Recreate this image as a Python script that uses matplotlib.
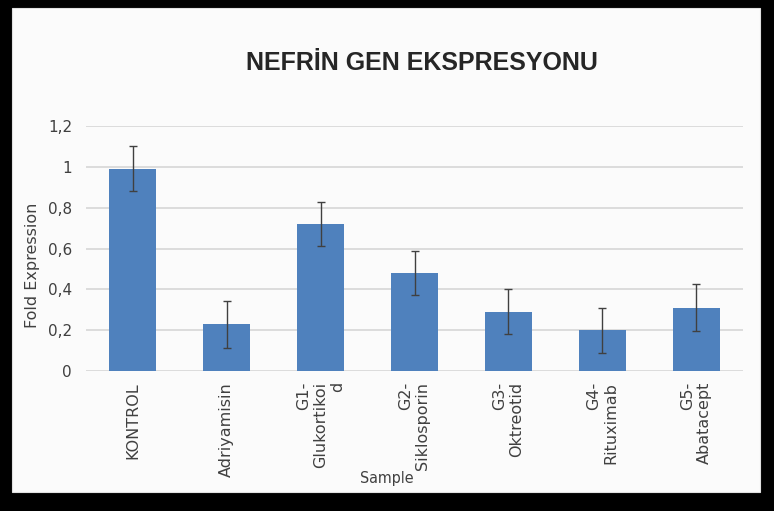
import matplotlib.pyplot as plt
from matplotlib.patches import Rectangle
from matplotlib.ticker import FuncFormatter

# data
samples = ["KONTROL", "Adriyamisin", "G1-\nGlukortikoi\nd", "G2-\nSiklosporin",
           "G3-\nOktreotid", "G4-\nRituximab", "G5-\nAbatacept"]
fold_expr = [0.99, 0.23, 0.72, 0.48, 0.29, 0.20, 0.31]
fold_err = [0.11, 0.115, 0.11, 0.11, 0.11, 0.11, 0.115]
yticks = [0, 0.2, 0.4, 0.6, 0.8, 1.0, 1.2]

W, H = 774, 511
fig = plt.figure(figsize=(W / 100, H / 100), dpi=100)
fig.patch.set_facecolor("black")

# white chart panel
panel = Rectangle((12 / W, 1 - 492 / H), (760 - 12) / W, (492 - 8) / H,
                  transform=fig.transFigure, facecolor="#fbfbfb",
                  edgecolor="#e0e0e0", linewidth=0.8, zorder=-5)
fig.patches.append(panel)

ax = fig.add_axes([86 / W, 1 - 371 / H, (743 - 86) / W, (371 - 126) / H])
ax.set_facecolor("none")
ax.set_zorder(2)

x = list(range(len(samples)))
ax.bar(x, fold_expr, width=0.5, color="#4f81bd", zorder=3)
ax.errorbar(x, fold_expr, yerr=fold_err, fmt="none", ecolor="#404040",
            elinewidth=1.0, capsize=3, capthick=1.0, zorder=4)

ax.set_ylim(0, 1.2)
ax.set_xlim(-0.5, len(samples) - 0.5)
ax.set_yticks(yticks)
ax.yaxis.set_major_formatter(FuncFormatter(lambda v, p: ("%g" % round(v, 1)).replace(".", ",")))
ax.grid(axis="y", color="#d9d9d9", linewidth=1.3, zorder=0)
ax.set_axisbelow(True)
for s in ax.spines.values():
    s.set_visible(False)
ax.tick_params(axis="both", length=0, labelsize=11, colors="#404040", pad=10)
ax.tick_params(axis="x", pad=8)

ax.set_xticks(x)
ax.set_xticklabels(samples, rotation=90, ha="center", va="top",
                   multialignment="right", fontsize=11.5, color="#404040",
                   linespacing=1.15)

fig.text(32 / W, 1 - 265 / H, "Fold Expression", rotation=90, ha="center",
         va="center", fontsize=11.5, color="#404040")
fig.text(387 / W, 1 - 478 / H, "Sample", ha="center", va="center",
         fontsize=11.5, color="#404040", fontstretch="condensed")
fig.text(422 / W, 1 - 63 / H, "NEFRİN GEN EKSPRESYONU", ha="center",
         va="center", fontsize=18, fontweight="bold", color="#262626",
         family="Liberation Sans")

fig.savefig("out.png", dpi=100, facecolor=fig.get_facecolor())
